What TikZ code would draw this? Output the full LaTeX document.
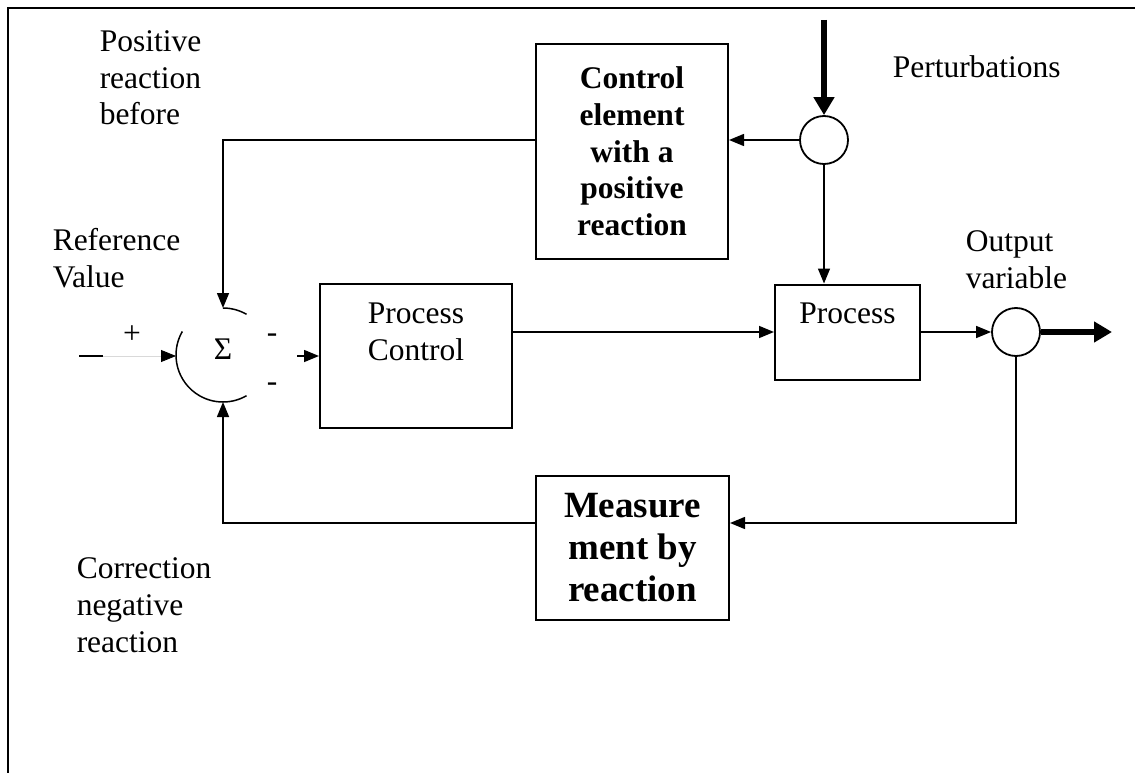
\documentclass[tikz,border=0pt]{standalone}
\usepackage{fontspec}
\setmainfont{Liberation Serif}
\usetikzlibrary{arrows.meta}
\begin{document}
\begin{tikzpicture}[x=1pt,y=-1pt,
  line width=1.5pt,
  every node/.style={inner sep=0pt},
  txt/.style={font=\fontsize{31.5}{36.7}\selectfont, align=left},
  block/.style={draw, line width=2pt},
  arr/.style={-{Triangle[length=15pt,width=12pt]}},
  bigarr/.style={line width=6pt,-{Triangle[length=18pt,width=20pt]}},
  junction/.style={draw, circle, minimum size=48pt, line width=1.8pt}]
\useasboundingbox (0,0) rectangle (1135,773);

% page frame (top and left rules)
\draw[line width=2pt] (1135,8) -- (8,8) -- (8,773);

% blocks
\node[block, minimum width=192pt, minimum height=215pt, align=center,
      font=\bfseries\fontsize{31.5}{36.7}\selectfont] (ctrl) at (632,151.5)
      {Control\\element\\with a\\positive\\reaction};
\node[block, minimum width=192pt, minimum height=144pt] (pc) at (416,356) {};
\node[txt, align=center, anchor=base] (pctxt) at (416,360) {Process\\Control};
\node[block, minimum width=145pt, minimum height=95pt] (proc) at (847.5,332) {};
\node[txt, anchor=base] (proctxt) at (847.5,323) {Process};
\node[block, minimum width=193pt, minimum height=144pt, align=center,
      font=\bfseries\fontsize{37}{42}\selectfont] (meas) at (632.5,548)
      {Measure\\ment by\\reaction};

% take-off points
\node[junction] (pert) at (824,140) {};
\node[junction] (out) at (1016,332) {};

% summing point
\coordinate (sum) at (223,355);
\draw (sum) ++(-60:47) arc[start angle=-60, end angle=-90, radius=47];
\draw (sum) ++(-150:47) arc[start angle=-150, end angle=-300, radius=47];
\coordinate (sumtop) at (223,308);
\coordinate (sumleft) at (176,356);
\coordinate (sumbot) at (223,402);
\coordinate (sumout) at (297,356);
\node[txt] (sigma) at (223,349) {Σ};
\node[txt] (plus) at (132,335) {+};
\node[txt] (minus1) at (272,338) {-};
\node[txt] (minus2) at (272,387) {-};

% reference input
\coordinate (refin) at (79,356);
\coordinate (refmid) at (103,356);
\draw (refin) -- (refmid);
\draw[draw=black!15, line width=0.8pt, -{Triangle[length=15pt,width=12pt,color=black]}] (refmid) -- (sumleft);

% forward path
\draw[arr] (sumout) -- (pc.west);
\draw[arr] (pc.east |- proc) -- (proc.west);
\draw[arr] (proc.east) -- (out.west);
\coordinate (outend) at (1112,332);
\draw[bigarr] (out.east) -- (outend);

% disturbance
\coordinate (pertin) at (824,20);
\draw[bigarr] (pertin) -- (pert.north);
\draw[arr] (pert.west) -- (ctrl.east |- pert);
\draw[arr] (pert.south) -- (pert.south |- proc.north);

% positive feedforward to the summing point
\draw[arr] (ctrl.west |- pert) -| (sumtop);

% negative feedback
\coordinate (fbr) at (1016,523);
\coordinate (fbl) at (223,523);
\draw[arr] (out.south) -- (fbr) -- (fbr -| meas.east);
\draw[arr] (fbl -| meas.west) -- (fbl) -- (sumbot);

% labels (base anchor sits on the last line)
\node[txt, anchor=base west] (lposfb) at (99,125) {Positive\\reaction\\before};
\node[txt, anchor=base west] (lref) at (52,287) {Reference\\Value};
\node[txt, anchor=base west] (lcorr) at (76,652) {Correction\\negative\\reaction};
\node[txt, anchor=base west] (lpert) at (892,78) {Perturbations};
\node[txt, anchor=base west] (lout) at (965,288) {Output\\variable};
\end{tikzpicture}
\end{document}
